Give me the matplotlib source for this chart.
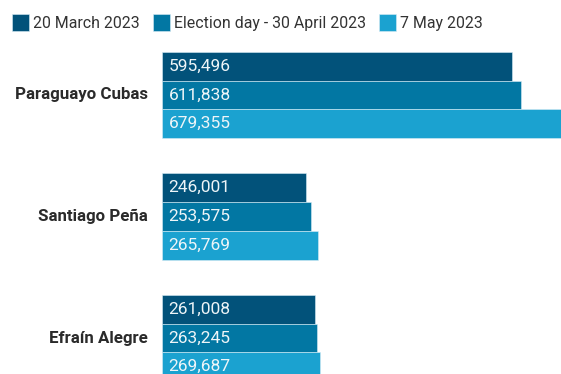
import matplotlib.pyplot as plt
import numpy as np

plt.rcParams['font.family'] = ['Roboto', 'DejaVu Sans']

candidates = ['Paraguayo Cubas', 'Santiago Peña', 'Efraín Alegre']
dates = ['20 March 2023', 'Election day - 30 April 2023', '7 May 2023']
march = [595496, 246001, 261008]
election = [611838, 253575, 263245]
may = [679355, 265769, 269687]
colors = ['#02527a', '#0277a3', '#1ba2d0']

W, H = 561, 374
fig = plt.figure(figsize=(W / 100, H / 100), dpi=100)

# plot area starts where the bars start; group spacing of ~121.5px
left = 162
ax = fig.add_axes([left / W, 0, (W - left) / W, 1])
step = 121.5
ax.set_ylim((H - 95) / step, -95 / step)
ax.set_xlim(0, max(may))
ax.axis('off')

h = 28.7 / step
y = np.arange(len(candidates))
series = [march, election, may]
bars = []
for k, (vals, c) in enumerate(zip(series, colors)):
    yy = y + (k - 1) * h
    b = ax.barh(yy, vals, height=h, color=c, edgecolor='#d8ecf5', linewidth=0.4)
    bars.append(b)
    for yi, v in zip(yy, vals):
        ax.text(max(may) * 0.016, yi, f'{v:,}', va='center', ha='left',
                color='#eef5f8', fontsize=12.5)

for yi, name in zip(y, candidates):
    ax.text(-max(may) * 0.036, yi, name, va='center', ha='right',
            fontsize=12.2, fontweight='bold', color='#2a2a2a')

fig.legend(bars, dates, loc='upper left', bbox_to_anchor=(12 / W, 1 - 14 / H),
           ncol=3, frameon=False, fontsize=11.4, handlelength=1.1,
           handleheight=1.3, handletextpad=0.25, columnspacing=0.8,
           labelcolor='#333333', borderaxespad=0, borderpad=0)

fig.savefig('out.png', dpi=100)
